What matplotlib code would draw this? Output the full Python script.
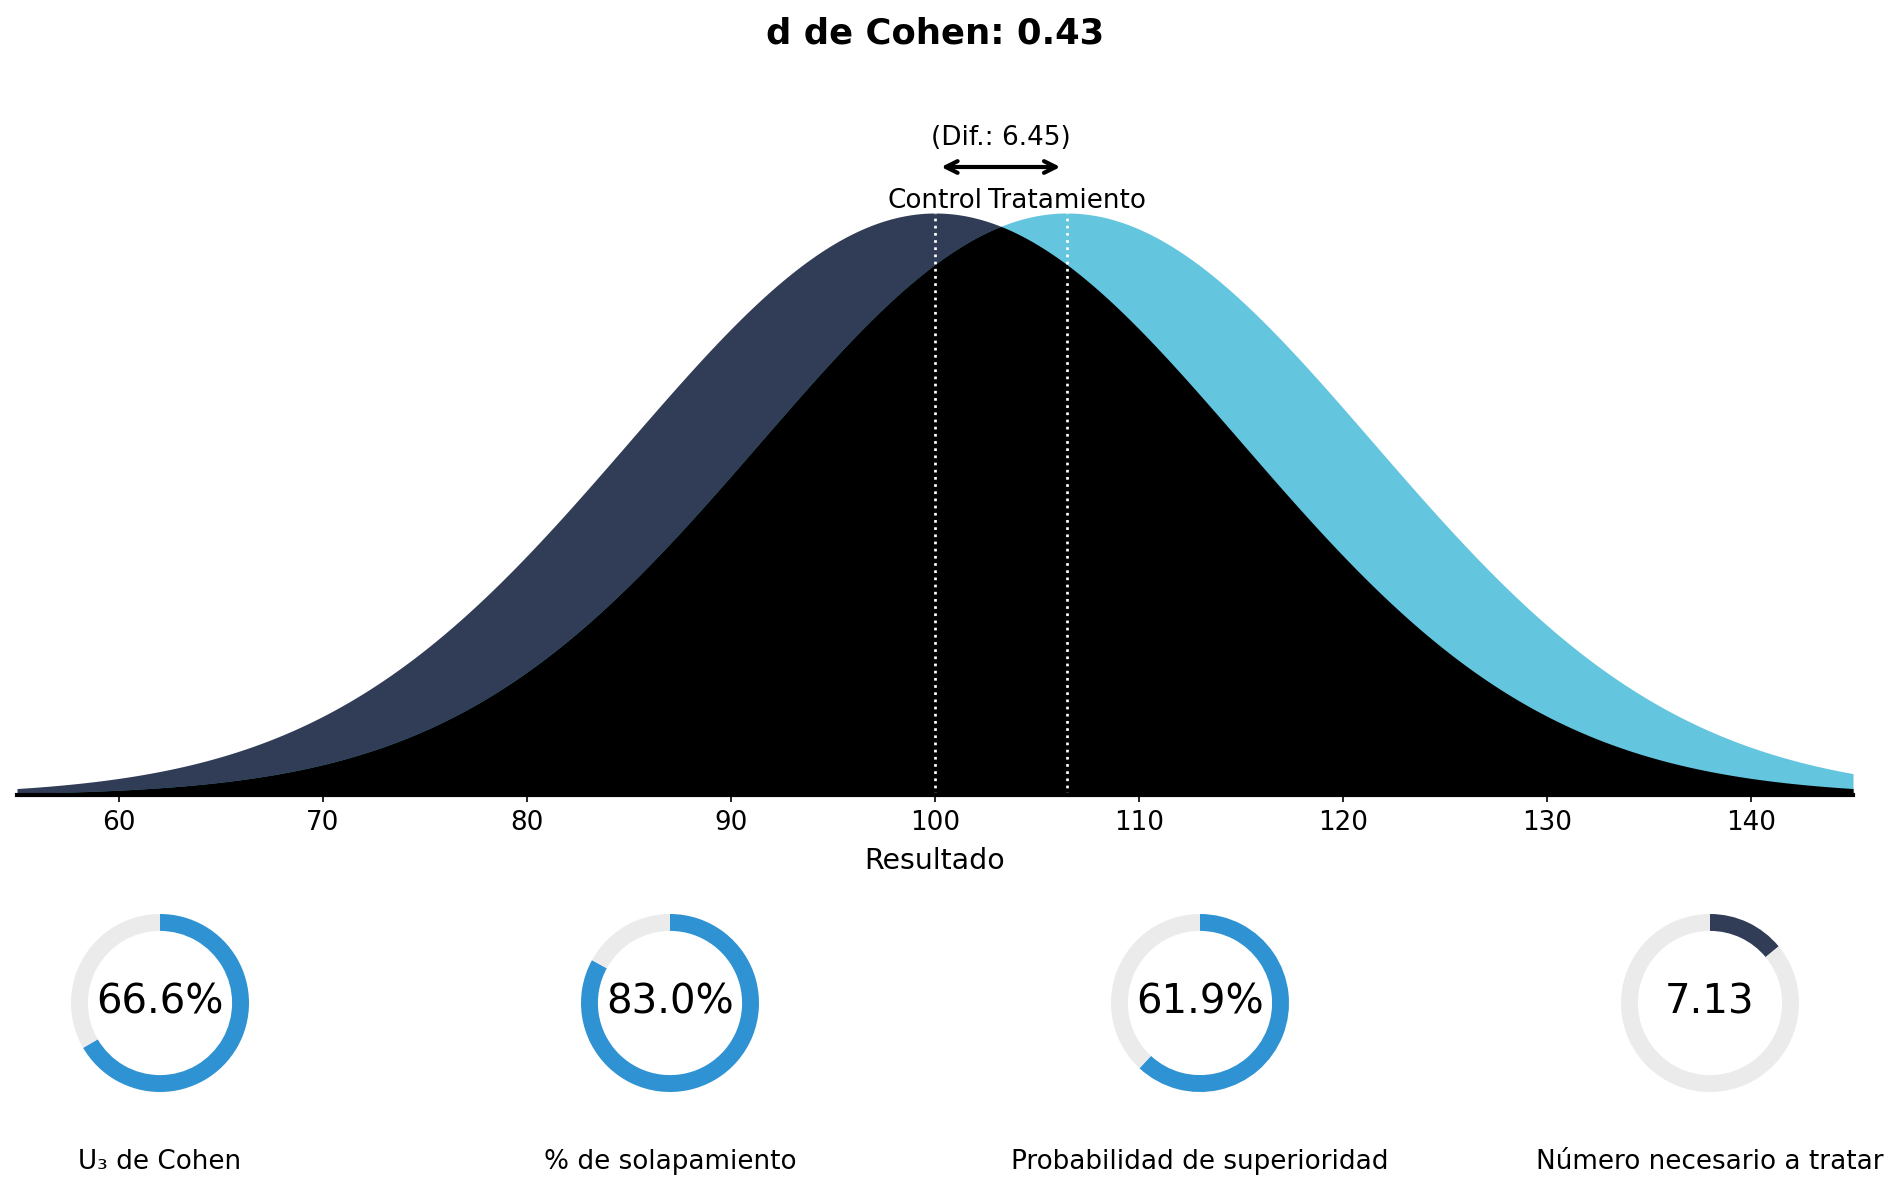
import numpy as np
import matplotlib
matplotlib.use("Agg")
import matplotlib.pyplot as plt

# datos
mean_control = 100.0
mean_treat = 106.45
sd = 15.0
cohen_d = 0.43
diff = 6.45

metric_labels = ["U₃ de Cohen", "% de solapamiento", "Probabilidad de superioridad", "Número necesario a tratar"]
metric_values = [0.666, 0.830, 0.619, 7.13]
metric_texts = ["66.6%", "83.0%", "61.9%", "7.13"]

c_control = "#313d57"
c_treat = "#64c5de"
c_donut = "#2f92d3"
c_grey = "#ebebeb"

W, H = 1899, 1192
DPI = 150
fig = plt.figure(figsize=(W / DPI, H / DPI), dpi=DPI)


def px_axes(x0, y0, w, h):
    # caja en pixeles (y desde arriba)
    return fig.add_axes([x0 / W, 1 - (y0 + h) / H, w / W, h / H])


# curvas
x = np.linspace(55, 145, 1000)


def pdf(x, m, s):
    return np.exp(-0.5 * ((x - m) / s) ** 2) / (s * np.sqrt(2 * np.pi))


y_c = pdf(x, mean_control, sd)
y_t = pdf(x, mean_treat, sd)
peak = y_c.max()

base_px = 795
peak_px = 582
scale = 1.25
ax = px_axes(17, base_px - peak_px * scale, 1853 - 17, peak_px * scale)
ax.fill_between(x, 0, y_c, color=c_control, lw=0)
ax.fill_between(x, 0, y_t, color=c_treat, lw=0)
ax.fill_between(x, 0, np.minimum(y_c, y_t), color="black", lw=0)
ax.vlines([mean_control, mean_treat], 0, peak, colors="white", linestyles=":", lw=1.3)
ax.set_xlim(55, 145)
ax.set_ylim(0, peak * scale)
for s in ["top", "left", "right"]:
    ax.spines[s].set_visible(False)
ax.spines["bottom"].set_linewidth(2)
ax.set_yticks([])
ax.set_xticks(np.arange(60, 141, 10))
ax.tick_params(axis="x", labelsize=12.6)
ax.set_xlabel("Resultado", fontsize=13.6, labelpad=5.5)


def ypx(p):
    return (base_px - p) / peak_px * peak


ax.text(mean_control, ypx(201), "Control", ha="center", va="center", fontsize=12.6)
ax.text(mean_treat, ypx(201), "Tratamiento", ha="center", va="center", fontsize=12.6)
ax.annotate("", xy=(mean_treat, ypx(167)), xytext=(mean_control, ypx(167)),
            arrowprops=dict(arrowstyle="<->", lw=2, color="black", shrinkA=3, shrinkB=3,
                            mutation_scale=14))
ax.text((mean_control + mean_treat) / 2, ypx(138), f"(Dif.: {diff:.2f})",
        ha="center", va="center", fontsize=12.6)

fig.text(935 / W, 1 - 34 / H, f"d de Cohen: {cohen_d:.2f}", ha="center", va="center",
         fontsize=17, fontweight="bold")

# donuts
centers = [160, 670, 1200, 1710]
cy = 1003
r = 89
for i in range(4):
    dax = px_axes(centers[i] - r, cy - r, 2 * r, 2 * r)
    if i < 3:
        frac = metric_values[i]
        col = c_donut
    else:
        frac = 1 / metric_values[i]
        col = c_control
    dax.pie([frac, 1 - frac], colors=[col, c_grey], startangle=90, counterclock=False,
            radius=1, wedgeprops=dict(width=0.19, edgecolor="none"))
    dax.set_xlim(-1, 1)
    dax.set_ylim(-1, 1)
    dax.set_aspect("equal")
    dax.axis("off")
    dax.text(0, 0, metric_texts[i], ha="center", va="center", fontsize=19.3)
    fig.text(centers[i] / W, 1 - 1162 / H, metric_labels[i], ha="center", va="center", fontsize=12.6)

fig.savefig("out.png", dpi=DPI)
